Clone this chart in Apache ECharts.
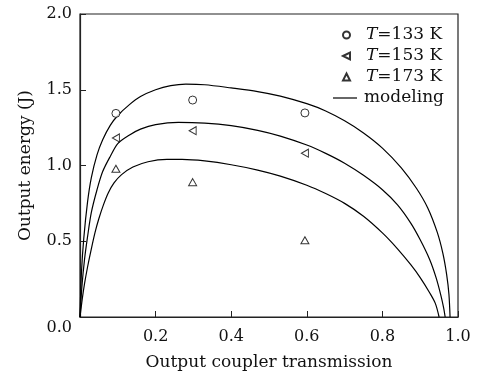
<!DOCTYPE html>
<html>
<head>
<meta charset="utf-8">
<script src="https://cdn.jsdelivr.net/npm/echarts@6/dist/echarts.min.js"></script>
<style>html,body{margin:0;padding:0;background:#fff}#c{width:479px;height:376px}</style>
</head>
<body>
<div id="c"></div>
<script>
// measured points
var measX = [0.095, 0.298, 0.595];
var e133 = [1.344, 1.432, 1.347];
var e153 = [1.182, 1.230, 1.081];
var e173 = [0.978, 0.890, 0.507];
// modeling curves
var model133 = [[0,0],[0.004,0.30],[0.01,0.52],[0.02,0.76],[0.03,0.92],[0.045,1.07],[0.06,1.17],[0.08,1.265],[0.10,1.33],[0.13,1.40],[0.16,1.455],[0.20,1.50],[0.24,1.527],[0.28,1.537],[0.33,1.533],[0.40,1.512],[0.47,1.488],[0.53,1.458],[0.60,1.408],[0.65,1.36],[0.70,1.295],[0.75,1.215],[0.80,1.115],[0.85,0.985],[0.89,0.85],[0.92,0.72],[0.945,0.56],[0.96,0.42],[0.97,0.28],[0.976,0.15],[0.979,0]];
var model153 = [[0,0],[0.005,0.20],[0.012,0.38],[0.02,0.53],[0.03,0.69],[0.045,0.84],[0.06,0.96],[0.08,1.06],[0.10,1.145],[0.13,1.20],[0.16,1.24],[0.20,1.27],[0.26,1.285],[0.33,1.28],[0.40,1.263],[0.47,1.232],[0.53,1.194],[0.60,1.135],[0.65,1.08],[0.70,1.015],[0.75,0.935],[0.80,0.84],[0.84,0.74],[0.875,0.62],[0.90,0.51],[0.925,0.38],[0.942,0.26],[0.955,0.14],[0.962,0.06],[0.966,0]];
var model173 = [[0,0],[0.006,0.12],[0.012,0.22],[0.02,0.33],[0.03,0.45],[0.04,0.56],[0.05,0.65],[0.062,0.74],[0.075,0.82],[0.09,0.885],[0.11,0.94],[0.14,0.99],[0.18,1.025],[0.23,1.04],[0.27,1.04],[0.33,1.03],[0.40,1.005],[0.47,0.97],[0.53,0.93],[0.60,0.87],[0.65,0.815],[0.70,0.75],[0.75,0.665],[0.80,0.555],[0.84,0.45],[0.875,0.345],[0.90,0.26],[0.925,0.16],[0.94,0.09],[0.95,0]];
var legendNames = ['T=133 K','T=153 K','T=173 K','modeling'];

function pairs(xs, ys){ return xs.map(function(x,i){return [x, ys[i]];}); }
var FONT = 'DejaVu Serif';
var hollow = {color:'#fff', borderColor:'#000', borderWidth:1};
var lineStyle = {color:'#000', width:1.2};

var chart = echarts.init(document.getElementById('c'), null, {renderer:'canvas'});
chart.setOption({
  animation:false,
  backgroundColor:'#fff',
  grid:{left:80, top:14, width:378, height:303, show:true, borderColor:'#222', borderWidth:1.2, backgroundColor:'transparent'},
  xAxis:{type:'value', min:0, max:1, interval:0.2,
    name:'Output coupler transmission', nameLocation:'middle', nameGap:37,
    nameTextStyle:{fontFamily:FONT, fontSize:17, color:'#111'},
    axisLine:{lineStyle:{color:'#222', width:1.2}},
    axisTick:{inside:true, length:6, lineStyle:{color:'#222'}},
    splitLine:{show:false},
    axisLabel:{showMinLabel:false, margin:12, fontFamily:FONT, fontSize:16, color:'#111', formatter:function(v){return v.toFixed(1);}}
  },
  yAxis:{type:'value', min:0, max:2, interval:0.5,
    name:'Output energy (J)', nameLocation:'middle', nameGap:46,
    nameTextStyle:{fontFamily:FONT, fontSize:17, color:'#111'},
    axisLine:{lineStyle:{color:'#222', width:1.2}},
    axisTick:{inside:true, length:6, lineStyle:{color:'#222'}},
    splitLine:{show:false},
    axisLabel:{margin:8, fontFamily:FONT, fontSize:16, color:'#111',
      formatter:function(v){ return v===0 ? '{low|0.0}' : v.toFixed(1); },
      rich:{low:{fontFamily:FONT, fontSize:16, color:'#111', padding:[22,0,0,0]}}}
  },
  legend:[{
    data:legendNames.slice(0,3), orient:'vertical', left:342, top:26, padding:0,
    itemWidth:7, itemHeight:7, itemGap:3,
    textStyle:{fontFamily:FONT, fontSize:17, color:'#111', lineHeight:18,
      rich:{i:{fontFamily:FONT, fontSize:17, fontStyle:'italic', color:'#111', padding:[0,0,0,11]}, n:{fontFamily:FONT, fontSize:17, color:'#111'}}},
    formatter:function(n){ return '{i|T}{n|' + n.slice(1) + '}'; }
  },{
    data:[{name:legendNames[3], icon:'rect'}], orient:'vertical', left:333, top:89, padding:0,
    itemWidth:24, itemHeight:1.2,
    itemStyle:{color:'#000'},
    textStyle:{fontFamily:FONT, fontSize:17, color:'#111', lineHeight:18, padding:[0,0,0,2]}
  }],
  series:[
    {name:legendNames[0], type:'scatter', data:pairs(measX, e133), symbol:'circle', symbolSize:8, itemStyle:hollow, z:3},
    {name:legendNames[1], type:'scatter', data:pairs(measX, e153), symbol:'path://M0,3.5L7,0L7,7Z', symbolSize:[7,8], itemStyle:hollow, z:3},
    {name:legendNames[2], type:'scatter', data:pairs(measX, e173), symbol:'triangle', symbolSize:[8,7], itemStyle:hollow, z:3},
    {name:legendNames[3], type:'line', data:model133, smooth:0.3, symbol:'none', lineStyle:lineStyle, itemStyle:{color:'#000'}},
    {name:legendNames[3], type:'line', data:model153, smooth:0.3, symbol:'none', lineStyle:lineStyle, itemStyle:{color:'#000'}},
    {name:legendNames[3], type:'line', data:model173, smooth:0.3, symbol:'none', lineStyle:lineStyle, itemStyle:{color:'#000'}}
  ]
});
</script>
</body>
</html>
